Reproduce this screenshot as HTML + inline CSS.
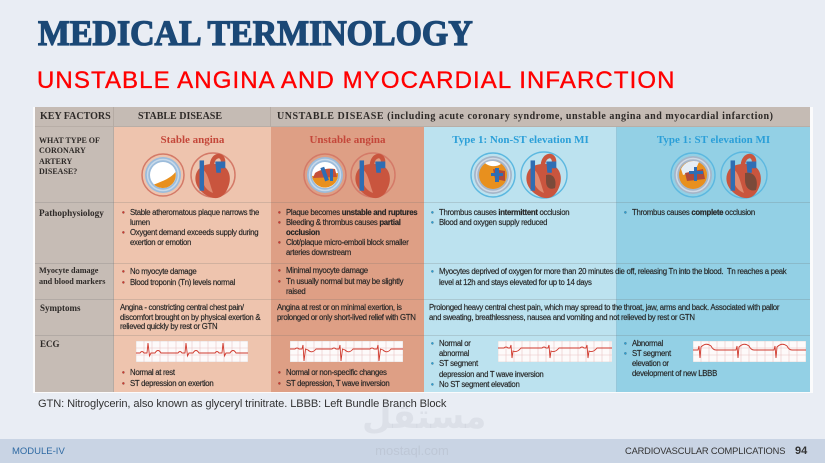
<!DOCTYPE html>
<html><head><meta charset="utf-8">
<style>
*{margin:0;padding:0;box-sizing:border-box}
body{width:825px;height:463px;overflow:hidden;background:#e9edf4;position:relative;font-family:"Liberation Sans",sans-serif}
.a{position:absolute}
.t{position:absolute;font-family:"Liberation Sans",sans-serif;font-size:7.8px;line-height:10px;letter-spacing:-0.3px;color:#262626;white-space:nowrap;-webkit-text-stroke:0.15px #262626}
.t b{font-weight:bold}
.rb,.bb{position:relative}
.rb::before,.bb::before{content:"•";position:absolute;left:-8px;top:0;font-size:8px}
.rb::before{color:#d2382e}
.bb::before{color:#2a9fd6}
.s{position:absolute;font-family:"Liberation Serif",serif;font-weight:bold;color:#2e2a28;white-space:nowrap}
.ct{position:absolute;font-family:"Liberation Serif",serif;font-weight:bold;font-size:11px;line-height:14px;text-align:center;white-space:nowrap}
</style></head><body>

<!-- Titles -->
<div class="a" style="left:38px;top:13px;font-family:'Liberation Serif',serif;font-weight:bold;font-size:36px;line-height:40px;color:#1b4876;-webkit-text-stroke:1.3px #1b4876;transform:scaleX(0.94);transform-origin:0 0;white-space:nowrap">MEDICAL TERMINOLOGY</div>
<div class="a" style="left:37px;top:66px;font-size:24px;line-height:30px;letter-spacing:1.1px;color:#ff0000;-webkit-text-stroke:0.35px #ff0000;white-space:nowrap">UNSTABLE ANGINA AND MYOCARDIAL INFARCTION</div>

<!-- Table frame -->
<div class="a" style="left:33px;top:107px;width:780px;height:286px;background:#fbfbfc"></div>
<div class="a" style="left:35px;top:107px;width:79px;height:285px;background:#c6bcb5"></div>
<div class="a" style="left:114px;top:127px;width:157px;height:265px;background:#eec4ae"></div>
<div class="a" style="left:271px;top:127px;width:153px;height:265px;background:#de9f85"></div>
<div class="a" style="left:424px;top:127px;width:193px;height:265px;background:#bce2ef"></div>
<div class="a" style="left:617px;top:127px;width:193px;height:265px;background:#93d0e5"></div>
<!-- header -->
<div class="a" style="left:35px;top:107px;width:775px;height:20px;background:#c5bbb4;border-bottom:1px solid #b8aea7"></div>
<div class="a" style="left:113px;top:107px;width:1px;height:285px;background:#b5aba4"></div>
<div class="a" style="left:270px;top:107px;width:1px;height:20px;background:#b5aba4"></div>
<div class="a" style="left:616px;top:127px;width:1px;height:265px;background:rgba(80,150,180,0.35)"></div>
<!-- row separators -->
<div class="a" style="left:35px;top:202px;width:775px;height:1px;background:rgba(110,110,110,0.22)"></div>
<div class="a" style="left:35px;top:263px;width:775px;height:1px;background:rgba(110,110,110,0.22)"></div>
<div class="a" style="left:35px;top:299px;width:775px;height:1px;background:rgba(110,110,110,0.22)"></div>
<div class="a" style="left:35px;top:335px;width:775px;height:1px;background:rgba(110,110,110,0.22)"></div>

<!-- header text -->
<div class="s" style="left:40px;top:111px;font-size:10px;line-height:12px">KEY FACTORS</div>
<div class="s" style="left:138px;top:111px;font-size:10px;line-height:12px">STABLE DISEASE</div>
<div class="s" style="left:277px;top:111px;font-size:10px;line-height:12px;letter-spacing:0.54px">UNSTABLE DISEASE (including acute coronary syndrome, unstable angina and myocardial infarction)</div>

<!-- row labels -->
<div class="s" style="left:39px;top:136px;font-size:8px;line-height:10.3px">WHAT TYPE OF<br>CORONARY<br>ARTERY<br>DISEASE?</div>
<div class="s" style="left:39px;top:207px;font-size:9.2px;line-height:12px">Pathophysiology</div>
<div class="s" style="left:39px;top:265px;font-size:8.2px;line-height:11px">Myocyte damage<br>and blood markers</div>
<div class="s" style="left:40px;top:302px;font-size:9px;line-height:12px">Symptoms</div>
<div class="s" style="left:40px;top:338px;font-size:9px;line-height:12px">ECG</div>

<!-- column titles -->
<div class="ct" style="left:114px;top:133px;width:157px;color:#c4473a">Stable angina</div>
<div class="ct" style="left:271px;top:133px;width:153px;color:#c4473a">Unstable angina</div>
<div class="ct" style="left:424px;top:133px;width:193px;color:#2b9fd8">Type 1: Non-ST elevation MI</div>
<div class="ct" style="left:617px;top:133px;width:193px;color:#2b9fd8">Type 1: ST elevation MI</div>

<!-- icons -->
<svg class="a" style="left:0;top:0" width="825" height="463" viewBox="0 0 825 463">
<defs>
<g id="heart" transform="scale(1.12)">
 <path d="M-13,-5 C-19,3 -15,15 -2,20 C5,22 10,19 13,12 C17,4 15,-5 9,-8 C3,-11 -8,-11 -13,-5 Z" fill="#c9553e"/>
 <path d="M-8,-4 C-12,4 -8,13 0,16 C-3,8 -4,0 -8,-4Z" fill="#e08a70"/>
 <path d="M-1,-9 C0,-19 9,-19 9,-12" stroke="#c9553e" stroke-width="4" fill="none"/>
 <rect x="-12" y="-13" width="4" height="27" fill="#2f6db3"/>
 <path d="M2,-12 L11,-12 L11,-6 L7,-6 L7,-2 L3,-2 Z" fill="#2f6db3"/>
</g>
<g id="artS">
 <circle r="21" fill="none" stroke="#d47a68" stroke-width="1.5"/>
 <circle r="18" fill="#9cbcdb"/>
 <circle r="15.5" fill="none" stroke="#c7d9ea" stroke-width="1.5"/>
 <circle r="13" fill="#fff"/>
</g>
<g id="artM">
 <circle r="22" fill="none" stroke="#5cb8e0" stroke-width="1.4"/>
 <circle r="19" fill="#a6b6c9"/>
 <circle r="16.5" fill="none" stroke="#d0dae6" stroke-width="1.5"/>
 <circle r="14" fill="#e8901e"/>
</g>
</defs>
<!-- stable -->
<g transform="translate(163,175)"><use href="#artS"/><path d="M12.5,-3 A13,13 0 0 1 -9,9.5 C0,6 8,3 12.5,-3Z" fill="#e8901e"/></g>
<g transform="translate(213,175)"><circle r="22" fill="none" stroke="#d47a68" stroke-width="1.5"/><use href="#heart"/></g>
<!-- unstable -->
<g transform="translate(325,175)"><use href="#artS"/><path d="M-13,1 L13,-2 A13,13 0 0 1 -13,1Z" fill="#e8901e"/><path d="M-10,-2 C-4,-6 4,-7 10,-6 L12,2 L-12,3Z" fill="#c4503a"/><rect x="-2" y="-8" width="4" height="14" fill="#2f6db3" transform="rotate(-20)"/><rect x="5" y="-6" width="3" height="12" fill="#2f6db3"/></g>
<g transform="translate(373,175)"><circle r="22" fill="none" stroke="#d47a68" stroke-width="1.5"/><use href="#heart"/></g>
<!-- NSTEMI -->
<g transform="translate(493,175)"><use href="#artM"/><path d="M-8,-12 A14,14 0 0 1 8,-11 C4,-8 -4,-8 -8,-12Z" fill="#fff"/><path d="M0,-6 L12,-4 L12,6 L2,4Z" fill="#b04a3a"/><rect x="2" y="-7" width="4" height="14" fill="#2f6db3"/><rect x="-2" y="-2" width="12" height="3" fill="#2f6db3"/></g>
<g transform="translate(544,175)"><circle r="23" fill="none" stroke="#5cb8e0" stroke-width="1.4"/><use href="#heart"/><path d="M2,0 C9,-2 13,4 11,13 C6,15 2,13 2,6Z" fill="#7a4a3a"/></g>
<!-- STEMI -->
<g transform="translate(693,175)"><use href="#artM"/><path d="M-12,-6 A14,14 0 0 1 6,-13 L2,-4 L-10,0Z" fill="#e6eef6"/><path d="M-8,-2 L10,-6 L12,4 L-6,6Z" fill="#b04a3a"/><rect x="-4" y="-4" width="14" height="3" fill="#2f6db3"/><rect x="1" y="-8" width="3" height="14" fill="#2f6db3"/></g>
<g transform="translate(744,175)"><circle r="23" fill="none" stroke="#5cb8e0" stroke-width="1.4"/><use href="#heart"/><path d="M1,-2 C10,-4 15,4 12,15 C6,17 1,13 1,5Z" fill="#7a4a3a"/></g>
</svg>

<!-- Pathophysiology -->
<div class="t" style="left:130px;top:208px"><div class="rb">Stable atheromatous plaque narrows the<br>lumen</div><div class="rb">Oxygent demand exceeds supply during<br>exertion or emotion</div></div>
<div class="t" style="left:286px;top:208px"><div class="rb">Plaque becomes <b>unstable and ruptures</b></div><div class="rb">Bleeding &amp; thrombus causes <b>partial<br>occlusion</b></div><div class="rb">Clot/plaque micro-emboli block smaller<br>arteries downstream</div></div>
<div class="t" style="left:439px;top:208px"><div class="bb">Thrombus causes <b>intermittent</b> occlusion</div><div class="bb">Blood and oxygen supply reduced</div></div>
<div class="t" style="left:632px;top:208px"><div class="bb">Thrombus causes <b>complete</b> occlusion</div></div>

<!-- Myocyte -->
<div class="t" style="left:130px;top:266px;line-height:11px"><div class="rb">No myocyte damage</div><div class="rb">Blood troponin (Tn) levels normal</div></div>
<div class="t" style="left:286px;top:266px;line-height:10.5px"><div class="rb">Minimal myocyte damage</div><div class="rb">Tn usually normal but may be slightly<br>raised</div></div>
<div class="t" style="left:439px;top:266px;line-height:11px"><div class="bb">Myocytes deprived of oxygen for more than 20 minutes die off, releasing Tn into the blood.&nbsp; Tn reaches a peak<br>level at 12h and stays elevated for up to 14 days</div></div>

<!-- Symptoms -->
<div class="t" style="left:120px;top:303px;line-height:9.6px">Angina - constricting central chest pain/<br>discomfort brought on by physical exertion &amp;<br>relieved quickly by rest or GTN</div>
<div class="t" style="left:277px;top:303px;line-height:9.6px">Angina at rest or on minimal exertion, is<br>prolonged or only short-lived relief with GTN</div>
<div class="t" style="left:429px;top:303px;line-height:9.6px">Prolonged heavy central chest pain, which may spread to the throat, jaw, arms and back. Associated with pallor<br>and sweating, breathlessness, nausea and vomiting and not relieved by rest or GTN</div>

<!-- ECG text -->
<div class="t" style="left:130px;top:367px;line-height:11px"><div class="rb">Normal at rest</div><div class="rb">ST depression on exertion</div></div>
<div class="t" style="left:286px;top:367px;line-height:11px"><div class="rb">Normal or non-specific changes</div><div class="rb">ST depression, T wave inversion</div></div>
<div class="t" style="left:439px;top:339px;line-height:10.2px"><div class="bb">Normal or<br>abnormal</div><div class="bb">ST segment<br>depression and T wave inversion</div><div class="bb">No ST segment elevation</div></div>
<div class="t" style="left:632px;top:339px;line-height:10px"><div class="bb">Abnormal</div><div class="bb">ST segment<br>elevation or<br>development of new LBBB</div></div>

<!-- ECG strips -->
<svg class="a" style="left:136px;top:341px" width="112" height="21" viewBox="0 0 112 21">
<rect width="112" height="21" fill="#fdfafa" stroke="#d9d0d0" stroke-width="0.6"/>
<g stroke="#e9c4c4" stroke-width="0.6"><path d="M8,0V21M16,0V21M24,0V21M32,0V21M40,0V21M48,0V21M56,0V21M64,0V21M72,0V21M80,0V21M88,0V21M96,0V21M104,0V21M0,7H112M0,14H112"/></g>
<path d="M0,12 L4,12 Q6,9 8,12 L11,12 L12,2 L13.5,15 L15,12 L19,12 Q22,7 25,12 L42,12 Q44,9 46,12 L49,12 L50,2 L51.5,15 L53,12 L57,12 Q60,7 63,12 L79,12 Q81,9 83,12 L86,12 L87,2 L88.5,15 L90,12 L94,12 Q97,7 100,12 L112,12" fill="none" stroke="#d03a2e" stroke-width="0.9"/>
</svg>
<svg class="a" style="left:290px;top:341px" width="113" height="21" viewBox="0 0 113 21">
<rect width="113" height="21" fill="#fdfafa" stroke="#d9d0d0" stroke-width="0.6"/>
<g stroke="#e9c4c4" stroke-width="0.6"><path d="M8,0V21M16,0V21M24,0V21M32,0V21M40,0V21M48,0V21M56,0V21M64,0V21M72,0V21M80,0V21M88,0V21M96,0V21M104,0V21M0,7H113M0,14H113"/></g>
<path d="M0,8 L5,8 Q7,6 9,8 L12,8 L13,4 L14,20 L15.5,8 L18,9 Q22,13 26,8 L42,8 Q44,6 46,8 L49,8 L50,4 L51,20 L52.5,8 L55,9 Q59,13 63,8 L80,8 Q82,6 84,8 L87,8 L88,4 L89,20 L90.5,8 L93,9 Q97,13 101,8 L113,8" fill="none" stroke="#d03a2e" stroke-width="0.9"/>
</svg>
<svg class="a" style="left:498px;top:341px" width="114" height="21" viewBox="0 0 114 21">
<rect width="114" height="21" fill="#fdfafa" stroke="#d9d0d0" stroke-width="0.6"/>
<g stroke="#e9c4c4" stroke-width="0.6"><path d="M8,0V21M16,0V21M24,0V21M32,0V21M40,0V21M48,0V21M56,0V21M64,0V21M72,0V21M80,0V21M88,0V21M96,0V21M104,0V21M112,0V21M0,7H114M0,14H114"/></g>
<path d="M0,7 L6,7 Q8,5 10,7 L12,7 L13,4 L14,17 L15,10 Q19,12 23,7 L44,7 Q46,5 48,7 L50,7 L51,4 L52,17 L53,10 Q57,12 61,7 L82,7 Q84,5 86,7 L88,7 L89,4 L90,17 L91,10 Q95,12 99,7 L114,7" fill="none" stroke="#d03a2e" stroke-width="0.9"/>
</svg>
<svg class="a" style="left:693px;top:341px" width="113" height="21" viewBox="0 0 113 21">
<rect width="113" height="21" fill="#fdfafa" stroke="#d9d0d0" stroke-width="0.6"/>
<g stroke="#e9c4c4" stroke-width="0.6"><path d="M8,0V21M16,0V21M24,0V21M32,0V21M40,0V21M48,0V21M56,0V21M64,0V21M72,0V21M80,0V21M88,0V21M96,0V21M104,0V21M0,7H113M0,14H113"/></g>
<path d="M0,9 L5,9 L6,5 L7,17 L8,6 Q13,1 18,5 Q20,9 23,9 L43,9 L44,5 L45,17 L46,6 Q51,1 56,5 Q58,9 61,9 L81,9 L82,5 L83,17 L84,6 Q89,1 94,5 Q96,9 99,9 L113,9" fill="none" stroke="#d03a2e" stroke-width="0.9"/>
</svg>

<!-- footnote -->
<div class="a" style="left:38px;top:398px;font-size:11.1px;line-height:13px;color:#333;white-space:nowrap;letter-spacing:-0.1px">GTN: Nitroglycerin, also known as glyceryl trinitrate. LBBB: Left Bundle Branch Block</div>

<!-- watermark -->
<div class="a" style="left:362px;top:396px;width:100px;text-align:center;font-family:'DejaVu Sans',sans-serif;font-weight:bold;font-size:34px;line-height:42px;color:rgba(150,155,165,0.15)">مستقل</div>

<!-- footer -->
<div class="a" style="left:0;top:439px;width:825px;height:24px;background:#c9d4e4"></div>
<div class="a" style="left:366px;top:443px;width:92px;text-align:center;font-size:13px;line-height:16px;color:rgba(150,155,165,0.22)">mostaql.com</div>
<div class="a" style="left:12px;top:445px;font-size:9.5px;line-height:13px;color:#2f6aa3;white-space:nowrap">MODULE-IV</div>
<div class="a" style="left:625px;top:445px;font-size:9.3px;line-height:13px;color:#333;letter-spacing:-0.15px;white-space:nowrap">CARDIOVASCULAR COMPLICATIONS</div>
<div class="a" style="left:795px;top:444px;font-size:11px;line-height:14px;color:#333;font-weight:bold;white-space:nowrap">94</div>

</body></html>
